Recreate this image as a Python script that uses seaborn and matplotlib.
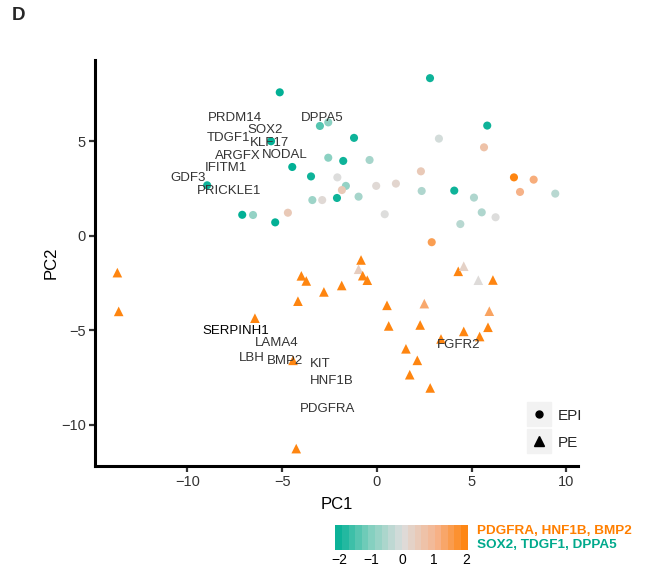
import numpy as np
import pandas as pd
import matplotlib
matplotlib.use("Agg")
import matplotlib.pyplot as plt
import seaborn as sns
from matplotlib.colors import LinearSegmentedColormap, Normalize
from matplotlib.lines import Line2D
from matplotlib.legend_handler import HandlerTuple
import matplotlib.cm as cm

# ---------------- data ----------------
epi_pc1 = [-5.13, -3.01, -2.57, -5.59, -2.57, -1.78, -4.47, -3.48, -2.09, -1.64,
           -1.85, -8.96, -3.41, -2.89, -2.11, -7.11, -6.54, -4.70, -5.37, 2.80,
           5.82, -1.21, 3.27, 5.65, -0.39, 2.32, -0.04, 1.00, 2.36, 4.08,
           7.23, 8.27, 7.55, 9.41, -0.97, 5.12, 5.53, 6.26, 0.41, 4.40, 2.89]
epi_pc2 = [7.60, 5.82, 6.01, 5.01, 4.14, 3.97, 3.65, 3.15, 3.10, 2.65,
           2.43, 2.68, 1.90, 1.90, 2.01, 1.12, 1.11, 1.23, 0.72, 8.35,
           5.84, 5.19, 5.15, 4.69, 4.02, 3.42, 2.65, 2.77, 2.38, 2.40,
           3.10, 2.98, 2.33, 2.24, 2.08, 2.03, 1.25, 0.99, 1.15, 0.63, -0.33]
epi_score = [-2.1, -1.4, -0.9, -2.1, -0.9, -2.0, -2.1, -2.0, 0.0, -0.8,
             0.5, -2.0, -0.7, 0.1, -2.0, -2.1, -0.8, 0.5, -2.1, -2.0,
             -2.0, -2.0, -0.1, 0.7, -0.6, 0.5, 0.1, 0.2, -0.5, -2.0,
             2.0, 1.2, 1.1, -0.4, -0.6, -0.5, -0.5, 0.0, 0.0, -0.4, 1.5]

pe_pc1 = [-13.70, -13.63, -6.44, -3.99, -3.73, -2.80, -1.86, -4.17, -4.43, -4.26,
          -0.84, -0.97, -0.75, -0.51, 0.53, 2.50, 0.62, 2.28, 4.29, 4.58,
          5.35, 6.12, 5.93, 5.86, 5.42, 4.58, 3.38, 1.53, 2.13, 1.73, 2.81]
pe_pc2 = [-1.94, -3.99, -4.35, -2.11, -2.38, -2.96, -2.62, -3.45, -6.58, -11.25,
          -1.27, -1.76, -2.10, -2.34, -3.67, -3.58, -4.76, -4.71, -1.87, -1.60,
          -2.34, -2.33, -3.98, -4.83, -5.32, -5.05, -5.45, -5.97, -6.58, -7.34, -8.04]
pe_score = [2.0, 2.0, 2.0, 2.0, 2.0, 2.0, 2.0, 2.0, 2.0, 2.0,
            2.0, 0.4, 2.0, 2.0, 2.0, 1.3, 2.0, 2.0, 2.0, 0.3,
            0.05, 2.0, 1.4, 2.0, 2.0, 2.0, 2.0, 2.0, 2.0, 2.0, 2.0]

gene_labels = ["PRDM14", "SOX2", "DPPA5", "TDGF1", "KLF17", "ARGFX", "NODAL",
               "IFITM1", "GDF3", "PRICKLE1", "SERPINH1", "LAMA4", "LBH", "BMP2",
               "KIT", "HNF1B", "PDGFRA", "FGFR2"]
gene_pc1 = [-7.49, -5.89, -2.90, -7.84, -5.67, -7.34, -4.84, -7.98, -9.96, -7.78,
            -7.46, -5.30, -6.58, -4.87, -2.98, -2.36, -2.60, 4.31]
gene_pc2 = [6.26, 5.63, 6.24, 5.20, 4.92, 4.23, 4.29, 3.61, 3.05, 2.38,
            -5.03, -5.68, -6.47, -6.61, -6.76, -7.68, -9.13, -5.75]

xticks = [-10, -5, 0, 5, 10]
yticks = [-10, -5, 0, 5]
cbar_ticks = [-2, -1, 0, 1, 2]
legend_labels = ["EPI", "PE"]
cbar_title_top = "PDGFRA, HNF1B, BMP2"
cbar_title_bottom = "SOX2, TDGF1, DPPA5"

# ---------------- style ----------------
sns.set_theme(style="white")
plt.rcParams['font.family'] = ['Liberation Sans', 'DejaVu Sans']

TEAL = '#00AF94'
ORANGE = '#FF7F00'
cmap = LinearSegmentedColormap.from_list(
    'tealorange',
    [(0.0, TEAL), (0.25, '#7DCFBD'), (0.5, '#DDDDDD'), (0.75, '#F6B48E'), (1.0, ORANGE)])
norm = Normalize(-2.12, 2.12)

W, H = 645, 568
fig = plt.figure(figsize=(W / 100, H / 100), dpi=100)
ax = fig.add_axes([95 / W, 1 - 466 / H, (578 - 95) / W, (466 - 60) / H])

df_epi = pd.DataFrame({'PC1': epi_pc1, 'PC2': epi_pc2, 'score': epi_score, 'type': 'EPI'})
df_pe = pd.DataFrame({'PC1': pe_pc1, 'PC2': pe_pc2, 'score': pe_score, 'type': 'PE'})

sns.scatterplot(data=df_epi, x='PC1', y='PC2', hue='score', palette=cmap, hue_norm=norm,
                marker='o', s=34, linewidth=0, legend=False, ax=ax, zorder=3)
sns.scatterplot(data=df_pe, x='PC1', y='PC2', hue='score', palette=cmap, hue_norm=norm,
                marker='^', s=48, linewidth=0, legend=False, ax=ax, zorder=3)

for lab, gx, gy in zip(gene_labels, gene_pc1, gene_pc2):
    ax.text(gx, gy, lab, ha='center', va='center', fontsize=9.5,
            color='black' if lab == 'SERPINH1' else '#333333', zorder=4)

ax.set_xlim(-14.88, 10.61)
ax.set_ylim(-12.17, 9.31)
ax.set_xticks(xticks)
ax.set_yticks(yticks)
for s in ['top', 'right']:
    ax.spines[s].set_visible(False)
for s in ['left', 'bottom']:
    ax.spines[s].set_linewidth(2.2)
    ax.spines[s].set_color('black')
ax.tick_params(bottom=True, left=True, direction='out', length=4, width=1.6,
               color='#333333', labelsize=10.5, labelcolor='#333333', pad=2.5)
ax.set_xlabel('PC1', fontsize=12, color='black', labelpad=6)
ax.set_ylabel('PC2', fontsize=12, color='black', labelpad=2)
ax.grid(False)

# ---------------- colour bar ----------------
cax = fig.add_axes([335.3 / W, 1 - 550 / H, (467.7 - 335.3) / W, 25 / H])
sm = cm.ScalarMappable(norm=norm, cmap=cmap)
cb = fig.colorbar(sm, cax=cax, orientation='horizontal',
                  boundaries=np.linspace(-2.12, 2.06, 21), ticks=cbar_ticks)
cb.outline.set_visible(False)
cax.tick_params(which='major', direction='in', color='white', length=5, width=1.3,
                top=True, bottom=True, labelsize=10, labelcolor='black', pad=2)
cax.tick_params(which='minor', length=0)
fig.text(476.7 / W, 1 - 531 / H, cbar_title_top, color=ORANGE, fontweight='bold',
         fontsize=9.7, ha='left', va='center')
fig.text(476.7 / W, 1 - 544.5 / H, cbar_title_bottom, color='#00A98C', fontweight='bold',
         fontsize=9.7, ha='left', va='center')

# ---------------- shape legend ----------------
bg = dict(marker='s', color='#F2F2F2', markersize=17.5, linestyle='')
handles = [(Line2D([], [], **bg), Line2D([], [], marker='o', color='black', markersize=5, linestyle='')),
           (Line2D([], [], **bg), Line2D([], [], marker='^', color='black', markersize=6.5, linestyle=''))]
fig.legend(handles, legend_labels, handler_map={tuple: HandlerTuple(ndivide=1, pad=0)},
           loc='upper left', bbox_to_anchor=(526.3 / W, 1 - 408 / H), frameon=False,
           fontsize=11, handlelength=1.7, handleheight=1.0, handletextpad=0.35,
           labelspacing=0.8, borderpad=0, borderaxespad=0)

fig.text(12 / W, 1 - 16 / H, 'D', fontsize=13.5, fontweight='bold', ha='left', va='center')

fig.savefig('out.png', dpi=100)
